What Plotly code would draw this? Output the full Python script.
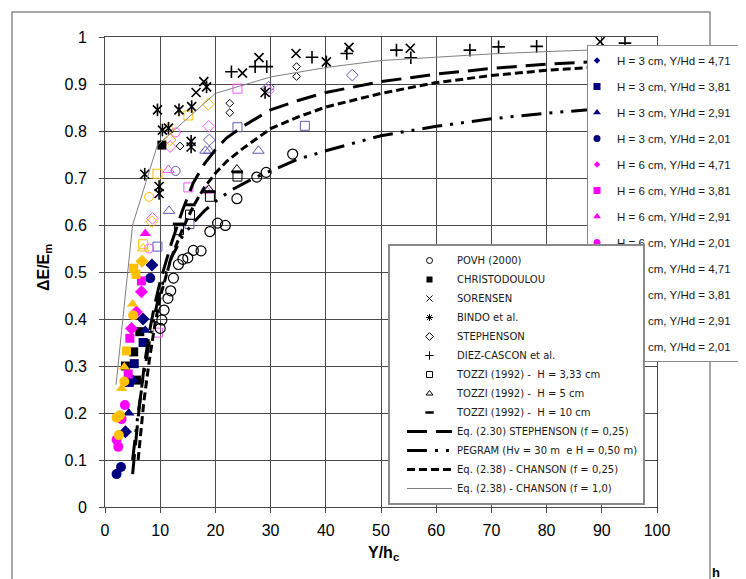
import plotly.graph_objects as go

# ---------------- curves ----------------
chanson1_x = [2, 5, 9.5, 20, 30, 40, 50, 60, 70, 80, 90, 100]
chanson1_y = [0.26, 0.60, 0.77, 0.88, 0.915, 0.935, 0.95, 0.957, 0.964, 0.969, 0.973, 0.977]

steph_eq_x = [5, 6, 7, 8, 9, 10, 11, 12, 14, 16, 18, 20, 22, 25, 30, 35, 40, 50, 60, 70, 80, 90, 100]
steph_eq_y = [0.07, 0.19, 0.29, 0.37, 0.43, 0.48, 0.52, 0.56, 0.63, 0.69, 0.73, 0.76, 0.785, 0.81,
              0.845, 0.865, 0.882, 0.905, 0.921, 0.933, 0.942, 0.949, 0.955]

chanson025_x = [6, 7, 8, 9, 10, 12, 14, 16, 18, 20, 22, 25, 30, 35, 40, 50, 60, 70, 80, 90, 100]
chanson025_y = [0.10, 0.22, 0.31, 0.385, 0.447, 0.53, 0.59, 0.64, 0.68, 0.71, 0.735, 0.763, 0.805,
                0.83, 0.851, 0.88, 0.903, 0.918, 0.929, 0.937, 0.944]

pegram_x = [5, 6, 7, 8, 9, 10, 12, 14, 16, 18, 20, 23, 27, 30, 35, 40, 50, 60, 70, 80, 90, 100]
pegram_y = [0.10, 0.20, 0.28, 0.35, 0.41, 0.46, 0.53, 0.575, 0.605, 0.63, 0.65, 0.675, 0.70, 0.715,
            0.74, 0.758, 0.79, 0.81, 0.826, 0.838, 0.848, 0.857]

# ---------------- black data sets ----------------
povh_x = [10.0, 10.3, 10.7, 11.4, 11.9, 12.4, 13.3, 14.1, 15.0, 16.0, 17.4, 19.0, 20.4, 21.8, 23.9, 27.5, 29.2, 34.0]
povh_y = [0.38, 0.398, 0.419, 0.444, 0.46, 0.487, 0.516, 0.527, 0.530, 0.546, 0.545, 0.586, 0.604, 0.599, 0.656, 0.702, 0.712, 0.751]

chris_x = [10.3, 5.2, 6.3, 3.7, 5.7]
chris_y = [0.77, 0.33, 0.373, 0.30, 0.27]

soren_x = [16.5, 17.9, 24.9, 27.9, 34.6, 44.2, 55.3, 89.7]
soren_y = [0.882, 0.905, 0.923, 0.956, 0.965, 0.978, 0.976, 0.99]

bindo_x = [7.2, 9.5, 9.8, 9.8, 10.4, 11.5, 13.4, 15.6, 15.6, 15.7, 18.4, 29.0, 40.1]
bindo_y = [0.708, 0.845, 0.682, 0.667, 0.802, 0.806, 0.845, 0.778, 0.766, 0.852, 0.894, 0.882, 0.947]

steph_x = [13.6, 22.6, 22.6, 34.7, 34.7]
steph_y = [0.768, 0.859, 0.839, 0.937, 0.916]

diez_x = [22.9, 27.2, 29.3, 37.5, 43.8, 52.8, 55.4, 66.1, 71.3, 78.2, 94.2]
diez_y = [0.926, 0.937, 0.937, 0.957, 0.965, 0.972, 0.956, 0.972, 0.979, 0.98, 0.987]

tozzi33_x = [13.4, 15.4, 19.0, 24.0]
tozzi33_y = [0.589, 0.622, 0.66, 0.703]
tozzi5_x = [18.8, 23.9]
tozzi5_y = [0.675, 0.718]
tozzi10_x = [13.3, 15.4, 19.0, 24.0]
tozzi10_y = [0.602, 0.643, 0.671, 0.713]

# ---------------- coloured (filled) data sets ----------------
n_dia_x, n_dia_y = [3.7, 4.8, 6.9, 8.5], [0.16, 0.27, 0.40, 0.515]
n_sq_x, n_sq_y = [4.4, 5.3, 6.9], [0.265, 0.305, 0.35]
n_tri_x, n_tri_y = [4.3, 5.0, 7.3], [0.20, 0.27, 0.376]
n_cir_x, n_cir_y = [2.1, 2.9, 8.2], [0.07, 0.085, 0.487]
m_dia_x, m_dia_y = [4.8, 5.7, 6.6], [0.38, 0.415, 0.458]
m_sq_x, m_sq_y = [4.2, 4.5, 6.6], [0.283, 0.359, 0.481]
m_tri_x, m_tri_y = [7.3], [0.582]
m_cir_x, m_cir_y = [2.1, 2.4, 3.0, 3.6], [0.143, 0.128, 0.187, 0.217]
g_dia_x, g_dia_y = [6.7], [0.523]
g_sq_x, g_sq_y = [3.9, 5.2, 5.6], [0.332, 0.508, 0.495]
g_tri_x, g_tri_y = [3.0, 3.5, 5.0], [0.252, 0.298, 0.432]
g_cir_x, g_cir_y = [2.1, 2.7, 2.5, 3.5, 5.1], [0.19, 0.195, 0.153, 0.267, 0.408]

# ---------------- coloured (open) data sets ----------------
no_dia_x, no_dia_y = [18.9, 29.6, 44.8], [0.781, 0.893, 0.919]
no_sq_x, no_sq_y = [9.5, 15.3, 24.0, 36.2], [0.554, 0.602, 0.808, 0.811]
no_tri_x, no_tri_y = [11.6, 18.2, 18.9, 27.8], [0.63, 0.758, 0.758, 0.758]
no_cir_x, no_cir_y = [12.8], [0.715]
mo_dia_x, mo_dia_y = [8.6, 11.8, 18.8, 29.6], [0.614, 0.767, 0.81, 0.886]
mo_sq_x, mo_sq_y = [9.6, 15.1, 24.0], [0.371, 0.68, 0.89]
mo_cir_x, mo_cir_y = [8.0, 12.8], [0.55, 0.797]
mo_tri_x, mo_tri_y = [11.5, 18.4], [0.717, 0.673]
go_dia_x, go_dia_y = [8.5, 11.8, 18.7], [0.607, 0.781, 0.857]
go_sq_x, go_sq_y = [6.9, 9.5, 15.1], [0.559, 0.709, 0.833]
go_cir_x, go_cir_y = [8.0], [0.66]
go_tri_x, go_tri_y = [6.9, 11.5], [0.55, 0.807]

x_ticks = [0, 10, 20, 30, 40, 50, 60, 70, 80, 90, 100]
y_ticks = [0, 0.1, 0.2, 0.3, 0.4, 0.5, 0.6, 0.7, 0.8, 0.9, 1]
y_tick_text = ["0", "0.1", "0.2", "0.3", "0.4", "0.5", "0.6", "0.7", "0.8", "0.9", "1"]

NAVY, MAG, GOLD = "#000080", "#FF00FF", "#FFC000"
NAVY_O, MAG_O, GOLD_O = "#5b5bb5", "#ff55ff", "#ffc000"
FONT = "Liberation Sans, Arial, sans-serif"
FONT_WIDE = "DejaVu Sans, Verdana, sans-serif"

# page offset of the plot div (browser body margin)
OFF = 8
W, H = 746, 579
PL, PR, PT, PB = 105, 657, 37, 507      # plot-area edges in page pixels


def px_x(p):
    return (p - PL) / (PR - PL)


def px_y(p):
    return (PB - p) / (PB - PT)


fig = go.Figure()


def pts(x, y, symbol, color, size, lw=1.0, filled=True):
    if filled:
        mk = dict(symbol=symbol, size=size, color=color, line=dict(width=0))
    else:
        mk = dict(symbol=symbol, size=size, color=color, line=dict(color=color, width=lw))
    fig.add_trace(go.Scatter(x=x, y=y, mode="markers", marker=mk, showlegend=False,
                             hoverinfo="skip"))


# open coloured markers (no legend entry)
pts(no_dia_x, no_dia_y, "diamond-open", NAVY_O, 9)
pts(no_sq_x, no_sq_y, "square-open", NAVY_O, 9)
pts(no_tri_x, no_tri_y, "triangle-up-open", NAVY_O, 10)
pts(no_cir_x, no_cir_y, "circle-open", NAVY_O, 9)
pts(mo_dia_x, mo_dia_y, "diamond-open", MAG_O, 9)
pts(mo_sq_x, mo_sq_y, "square-open", MAG_O, 9)
pts(mo_cir_x, mo_cir_y, "circle-open", MAG_O, 9)
pts(mo_tri_x, mo_tri_y, "triangle-up-open", MAG_O, 10)
pts(go_dia_x, go_dia_y, "diamond-open", GOLD_O, 9)
pts(go_sq_x, go_sq_y, "square-open", GOLD_O, 9)
pts(go_cir_x, go_cir_y, "circle-open", GOLD_O, 9)
pts(go_tri_x, go_tri_y, "triangle-up-open", GOLD_O, 10)

# black markers
pts(povh_x, povh_y, "circle-open", "black", 10, 1.2, False)
pts(chris_x, chris_y, "square", "black", 9)
pts(soren_x, soren_y, "x-thin-open", "black", 9, 1.6, False)
pts(bindo_x, bindo_y, "x-thin-open", "black", 9, 1.6, False)
pts(bindo_x, bindo_y, "line-ns-open", "black", 9, 1.6, False)
pts(steph_x, steph_y, "diamond-open", "black", 6, 1.0, False)
pts(diez_x, diez_y, "cross-thin-open", "black", 9, 1.6, False)
pts(tozzi33_x, tozzi33_y, "square-open", "black", 9, 1.0, False)
pts(tozzi5_x, tozzi5_y, "triangle-up-open", "black", 10, 1.0, False)
pts(tozzi10_x, tozzi10_y, "line-ew-open", "black", 8, 3.0, False)

# filled coloured markers
pts(n_dia_x, n_dia_y, "diamond", NAVY, 10)
pts(n_sq_x, n_sq_y, "square", NAVY, 9)
pts(n_tri_x, n_tri_y, "triangle-up", NAVY, 10)
pts(n_cir_x, n_cir_y, "circle", NAVY, 10)
pts(m_dia_x, m_dia_y, "diamond", MAG, 10)
pts(m_sq_x, m_sq_y, "square", MAG, 9)
pts(m_tri_x, m_tri_y, "triangle-up", MAG, 10)
pts(m_cir_x, m_cir_y, "circle", MAG, 10)
pts(g_dia_x, g_dia_y, "diamond", GOLD, 10)
pts(g_sq_x, g_sq_y, "square", GOLD, 9)
pts(g_tri_x, g_tri_y, "triangle-up", GOLD, 10)
pts(g_cir_x, g_cir_y, "circle", GOLD, 10)

# curves
STEPH_LINE = dict(color="black", width=3, dash="20px,9px")
PEG_LINE = dict(color="black", width=3, dash="20px,8px,3px,8px,3px,8px")
CH025_LINE = dict(color="black", width=3, dash="8px,4px")
CH1_LINE = dict(color="#808080", width=1)
for cx, cy, ln in [(steph_eq_x, steph_eq_y, STEPH_LINE), (pegram_x, pegram_y, PEG_LINE),
                   (chanson025_x, chanson025_y, CH025_LINE), (chanson1_x, chanson1_y, CH1_LINE)]:
    fig.add_trace(go.Scatter(x=cx, y=cy, mode="lines", line=ln, showlegend=False, hoverinfo="skip"))

# ---------------- legend entries ----------------
legend1_items = [
    ("H = 3 cm, Y/Hd = 4,71", "diamond", NAVY), ("H = 3 cm, Y/Hd = 3,81", "square", NAVY),
    ("H = 3 cm, Y/Hd = 2,91", "triangle-up", NAVY), ("H = 3 cm, Y/Hd = 2,01", "circle", NAVY),
    ("H = 6 cm, Y/Hd = 4,71", "diamond", MAG), ("H = 6 cm, Y/Hd = 3,81", "square", MAG),
    ("H = 6 cm, Y/Hd = 2,91", "triangle-up", MAG), ("H = 6 cm, Y/Hd = 2,01", "circle", MAG),
    ("H = 9 cm, Y/Hd = 4,71", "diamond", GOLD), ("H = 9 cm, Y/Hd = 3,81", "square", GOLD),
    ("H = 9 cm, Y/Hd = 2,91", "triangle-up", GOLD), ("H = 9 cm, Y/Hd = 2,01", "circle", GOLD),
]
PAD = "\u00a0" * 3
for i, (nm, sym, col) in enumerate(legend1_items):
    sz = 5 if sym == "diamond" else 7
    fig.add_trace(go.Scatter(x=[None], y=[None], mode="markers", name=nm + PAD, legend="legend",
                             legendgroup=f"g{i}",
                             marker=dict(symbol=sym, size=sz, color=col, line=dict(width=0))))

legend2_markers = [
    ("POVH (2000)", "circle-open", 1.0),
    ("CHRISTODOULOU", "square", 0),
    ("SORENSEN", "x-thin-open", 1.0),
    ("BINDO et al.", "asterisk-open", 1.0),
    ("STEPHENSON", "diamond-open", 1.0),
    ("DIEZ-CASCON et al.", "cross-thin-open", 1.0),
    ("TOZZI (1992) -  H = 3,33 cm", "square-open", 1.0),
    ("TOZZI (1992) -  H = 5 cm", "triangle-up-open", 1.0),
    ("TOZZI (1992) -  H = 10 cm", "line-ew-open", 2.5),
]
for nm, sym, lw in legend2_markers:
    fig.add_trace(go.Scatter(x=[None], y=[None], mode="markers", name=nm, legend="legend2",
                             marker=dict(symbol=sym, size=6, color="black",
                                         line=dict(color="black", width=lw))))
legend2_lines = [
    ("Eq. (2.30) STEPHENSON (f = 0,25)", STEPH_LINE),
    ("PEGRAM (Hv = 30 m  e H = 0,50 m)", PEG_LINE),
    ("Eq. (2.38) - CHANSON (f = 0,25)", CH025_LINE),
    ("Eq. (2.38) - CHANSON (f = 1,0)", CH1_LINE),
]
for nm, ln in legend2_lines:
    fig.add_trace(go.Scatter(x=[None], y=[None], mode="lines", name=nm, legend="legend2", line=ln))

axis_common = dict(showgrid=True, gridcolor="#4a4a4a", gridwidth=1, showline=True, mirror=True,
                   linecolor="#4a4a4a", linewidth=1, ticks="outside", ticklen=5,
                   tickcolor="#4a4a4a", zeroline=False, automargin=False,
                   tickfont=dict(family=FONT, size=16, color="black"))

fig.update_layout(
    width=W, height=H,
    margin=dict(l=PL - OFF, r=W - PR + OFF, t=PT - OFF, b=H - PB + OFF, autoexpand=False),
    paper_bgcolor="white", plot_bgcolor="white",
    font=dict(family=FONT, color="black"),
    xaxis=dict(range=[0, 100], tickvals=x_ticks, ticklabelstandoff=4, **axis_common),
    yaxis=dict(range=[0, 1], tickvals=y_ticks, ticktext=y_tick_text, ticklabelstandoff=9,
               **axis_common),
    legend=dict(x=px_x(587), y=px_y(45), xanchor="left", yanchor="top",
                bgcolor="white", bordercolor="#8a8a8a", borderwidth=1,
                font=dict(family=FONT, size=11.5, color="#1a1a1a"),
                traceorder="grouped", tracegroupgap=7, itemwidth=30, indentation=-11),
    legend2=dict(x=px_x(388), y=px_y(505), xanchor="left", yanchor="bottom",
                 bgcolor="white", bordercolor="#8a8a8a", borderwidth=2,
                 font=dict(family=FONT_WIDE, size=10, color="#1a1a1a"),
                 traceorder="normal", tracegroupgap=0, itemwidth=45, indentation=12),
    annotations=[
        dict(text="<b>ΔE/E<sub>m</sub></b>", xref="paper", yref="paper",
             x=px_x(44), y=px_y(268), textangle=-90, showarrow=False,
             xanchor="center", yanchor="middle", font=dict(family=FONT, size=16, color="black")),
        dict(text="<b>Y/h<sub>c</sub></b>", xref="paper", yref="paper",
             x=px_x(383), y=px_y(553), showarrow=False,
             xanchor="center", yanchor="middle", font=dict(family=FONT, size=16, color="black")),
        dict(text="<b>h</b>", xref="paper", yref="paper",
             x=px_x(716), y=px_y(572), showarrow=False,
             xanchor="center", yanchor="middle", font=dict(family=FONT, size=13, color="black")),
    ],
    shapes=[dict(type="rect", xref="paper", yref="paper",
                 x0=px_x(12), x1=px_x(710), y0=px_y(600), y1=px_y(12),
                 line=dict(color="#8c8c8c", width=1.5), layer="below")],
)

fig.write_html("out.html")
